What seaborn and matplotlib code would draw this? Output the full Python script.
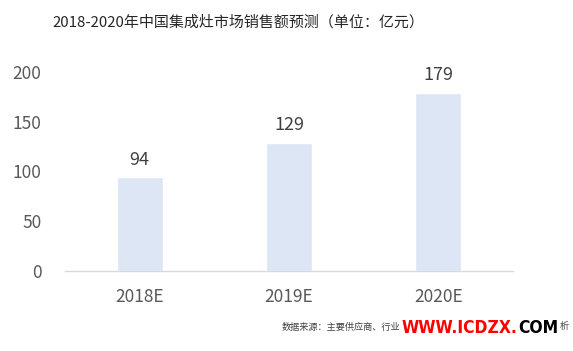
import pandas as pd
import seaborn as sns
import matplotlib.pyplot as plt

# Data
years = ['2018E', '2019E', '2020E']
sales = [94, 129, 179]
yticks = [0, 50, 100, 150, 200]

df = pd.DataFrame({'Year': years, 'Sales': sales})

sns.set_theme(style='white')
plt.rcParams['font.family'] = ['Noto Sans CJK SC', 'DejaVu Sans']

fig = plt.figure(figsize=(5.73, 3.51), dpi=100)
ax = fig.add_axes([65 / 573, 1 - 271 / 351, 448 / 573, 199 / 351])

sns.barplot(data=df, x='Year', y='Sales', color='#dde6f5', width=0.31,
            saturation=1, ax=ax)

# value labels
for i, v in enumerate(df['Sales']):
    ax.text(i, v + 9, str(v), ha='center', va='bottom', fontsize=13,
            color='#404040')

ax.set_xlim(-0.5, 2.5)
ax.set_ylim(0, 200)
ax.set_yticks(yticks)
ax.set_xlabel('')
ax.set_ylabel('')
ax.tick_params(axis='both', length=0, labelsize=12.5, colors='#595959')
ax.tick_params(axis='y', pad=17)
ax.tick_params(axis='x', pad=12)
for s in ['top', 'right', 'left']:
    ax.spines[s].set_visible(False)
ax.spines['bottom'].set_color('#d9d9d9')
ax.spines['bottom'].set_linewidth(1)

fig.text(52 / 573, 1 - 22 / 351, '2018-2020年中国集成灶市场销售额预测（单位：亿元）',
         ha='left', va='center', fontsize=10.8, color='#262626')

# source note, partly hidden behind the site watermark
fig.text(282 / 573, 1 - 327 / 351, '数据来源：主要供应商、行业',
         ha='left', va='center', fontsize=6.6, color='#404040')

wm = dict(fontsize=12.5, fontweight='bold', family='DejaVu Sans',
          fontstretch='condensed', va='center', ha='left')
y_wm = 1 - 328 / 351
red = fig.text(402 / 573, y_wm, 'WWW.ICDZX.', color='#ff0000', **wm)
fig.canvas.draw()
inv = fig.transFigure.inverted()
bb = red.get_window_extent().transformed(inv)
blk = fig.text(bb.x1, y_wm, 'COM', color='#000000', **wm)
fig.canvas.draw()
bb2 = blk.get_window_extent().transformed(inv)
fig.text(bb2.x1 + 2 / 573, 1 - 327 / 351, '析',
         ha='left', va='center', fontsize=6.6, color='#404040')

fig.savefig('out.png', dpi=100)
